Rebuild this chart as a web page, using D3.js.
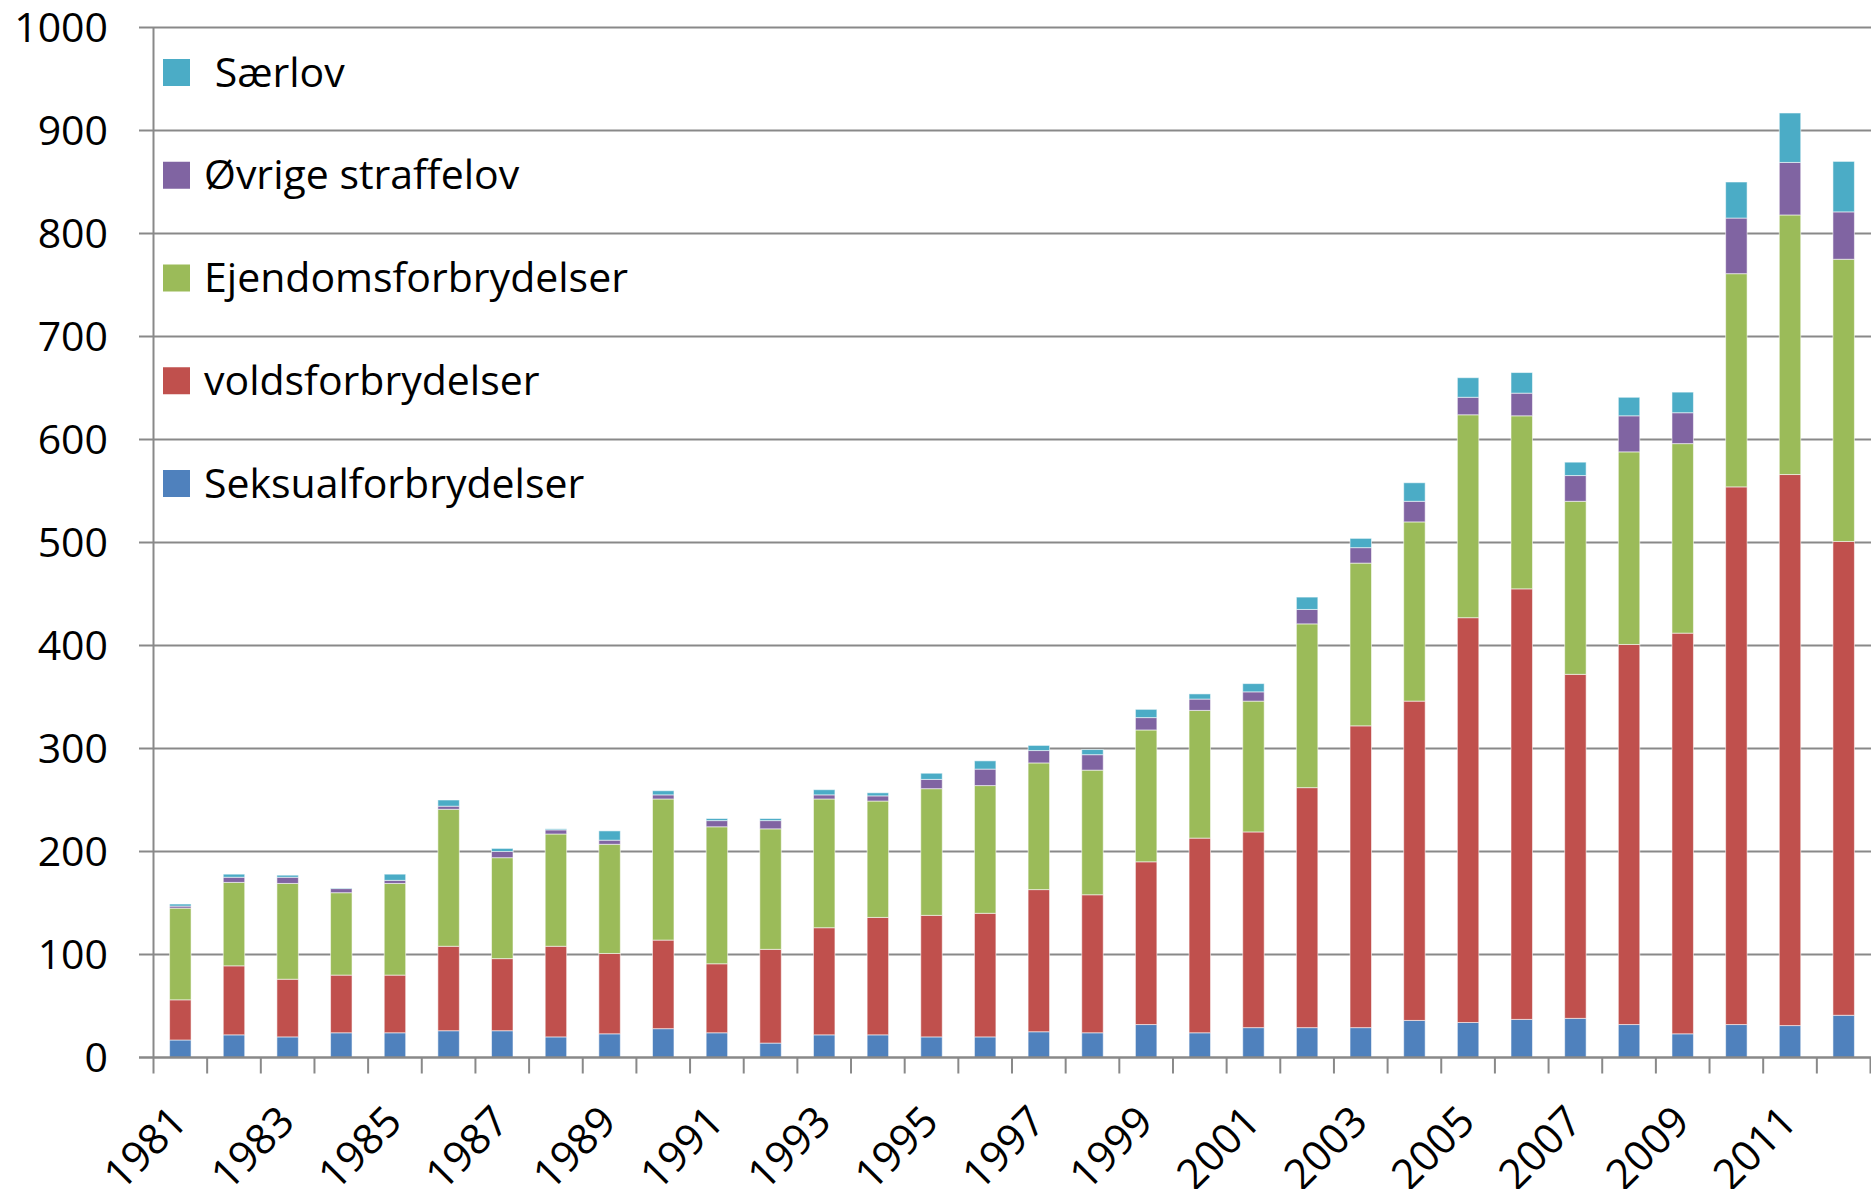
<!DOCTYPE html>
<html>
<head>
<meta charset="utf-8">
<script src="https://cdn.jsdelivr.net/npm/d3@7"></script>
<style>
  html, body { margin: 0; padding: 0; background: #fff; }
  svg text { font-family: "Open Sans", sans-serif; fill: #000; }
</style>
</head>
<body>
<div id="chart"></div>
<script>
// Data
var years = d3.range(1981, 2013).map(String);
var seksual = [17, 22, 20, 24, 24, 26, 26, 20, 23, 28, 24, 14, 22, 22, 20, 20, 25, 24, 32, 24, 29, 29, 29, 36, 34, 37, 38, 32, 23, 32, 31, 41];
var volds = [39, 67, 56, 56, 56, 82, 70, 88, 78, 86, 67, 91, 104, 114, 118, 120, 138, 134, 158, 189, 190, 233, 293, 310, 393, 418, 334, 369, 389, 522, 535, 460];
var ejendom = [89, 81, 93, 80, 89, 133, 98, 109, 106, 137, 133, 117, 125, 113, 123, 124, 123, 121, 128, 124, 127, 159, 158, 174, 197, 168, 168, 187, 184, 207, 252, 274];
var oevrige = [2, 5, 6, 4, 3, 3, 6, 4, 4, 4, 6, 8, 4, 5, 9, 16, 12, 15, 12, 11, 9, 14, 15, 20, 17, 22, 25, 35, 30, 54, 51, 46];
var saerlov = [2, 3, 2, 0.5, 6, 6, 3, 1, 9, 4, 2, 2, 5, 3, 6, 8, 5, 5, 8, 5, 8, 12, 9, 18, 19, 20, 13, 18, 20, 35, 48, 49];
var seriesNames = ['Seksualforbrydelser', 'voldsforbrydelser', 'Ejendomsforbrydelser', 'Øvrige straffelov', ' Særlov'];
var seriesColors = ['#4F81BD', '#C0504D', '#9BBB59', '#8064A2', '#4BACC6'];
var yTicks = [0, 100, 200, 300, 400, 500, 600, 700, 800, 900, 1000];
var xLabelYears = years.filter((y, i) => i % 2 === 0);

var width = 1871, height = 1189;
var svg = d3.select('#chart').append('svg')
  .attr('width', width)
  .attr('height', height);

// Build rows for the stack
var keys = ['seksual', 'volds', 'ejendom', 'oevrige', 'saerlov'];
var table = years.map((y, i) => ({
  year: y, seksual: seksual[i], volds: volds[i], ejendom: ejendom[i], oevrige: oevrige[i], saerlov: saerlov[i]
}));
var stacked = d3.stack().keys(keys)(table);

var x = d3.scaleBand().domain(years).range([153.5, 1870.5]).paddingInner(0.6).paddingOuter(0.3);
var y = d3.scaleLinear().domain([0, 1000]).range([1057.5, 27.5]);
var gridColor = '#898989';

// Gridlines with small outward ticks
svg.append('g')
  .selectAll('line')
  .data(yTicks.filter(t => t > 0))
  .join('line')
    .attr('x1', 139)
    .attr('x2', width)
    .attr('y1', d => y(d))
    .attr('y2', d => y(d))
    .attr('stroke', gridColor)
    .attr('stroke-width', 2);

// Y tick labels
svg.append('g')
  .selectAll('text')
  .data(yTicks)
  .join('text')
    .attr('x', 108)
    .attr('y', d => y(d))
    .attr('dy', '0.36em')
    .attr('text-anchor', 'end')
    .style('font-size', '41px')
    .text(d => d);

// Bars
svg.append('g')
  .selectAll('g')
  .data(stacked)
  .join('g')
    .attr('fill', (d, i) => seriesColors[i])
  .selectAll('rect')
  .data(d => d)
  .join('rect')
    .attr('x', d => x(d.data.year))
    .attr('width', x.bandwidth())
    .attr('y', d => y(d[1]))
    .attr('height', d => Math.max(0, y(d[0]) - y(d[1])))
    .attr('stroke', 'rgba(255,255,255,0.55)')
    .attr('stroke-width', 1);

// Axes lines
svg.append('line')
  .attr('x1', 139).attr('x2', width)
  .attr('y1', y(0)).attr('y2', y(0))
  .attr('stroke', gridColor).attr('stroke-width', 2.5);

svg.append('line')
  .attr('x1', 153.5).attr('x2', 153.5)
  .attr('y1', y(1000)).attr('y2', y(0) + 16)
  .attr('stroke', gridColor).attr('stroke-width', 2);

// Category boundary ticks
svg.append('g')
  .selectAll('line')
  .data(years.slice(1).concat(['end']))
  .join('line')
    .attr('x1', (d, i) => 153.5 + (i + 1) * x.step())
    .attr('x2', (d, i) => 153.5 + (i + 1) * x.step())
    .attr('y1', y(0))
    .attr('y2', y(0) + 16)
    .attr('stroke', gridColor)
    .attr('stroke-width', 2);

// X labels, every other year, rotated
svg.append('g')
  .selectAll('text')
  .data(xLabelYears)
  .join('text')
    .attr('text-anchor', 'end')
    .attr('transform', d => 'translate(' + (x(d) + x.bandwidth() / 2 + 9) + ',' + 1124 + ') rotate(-45)')
    .style('font-size', '42px')
    .text(d => d);

// Legend (top to bottom is reverse of stacking)
var legend = svg.append('g')
  .selectAll('g')
  .data(d3.range(5).reverse())
  .join('g')
    .attr('transform', (d, i) => 'translate(163,' + (72.5 + i * 102.75) + ')');

legend.append('rect')
  .attr('x', 0).attr('y', -13.5)
  .attr('width', 27).attr('height', 27)
  .attr('fill', d => seriesColors[d]);

legend.append('text')
  .attr('x', 41)
  .attr('y', 14)
  .style('font-size', '41px')
  .style('white-space', 'pre')
  .text(d => seriesNames[d]);
</script>
</body>
</html>
